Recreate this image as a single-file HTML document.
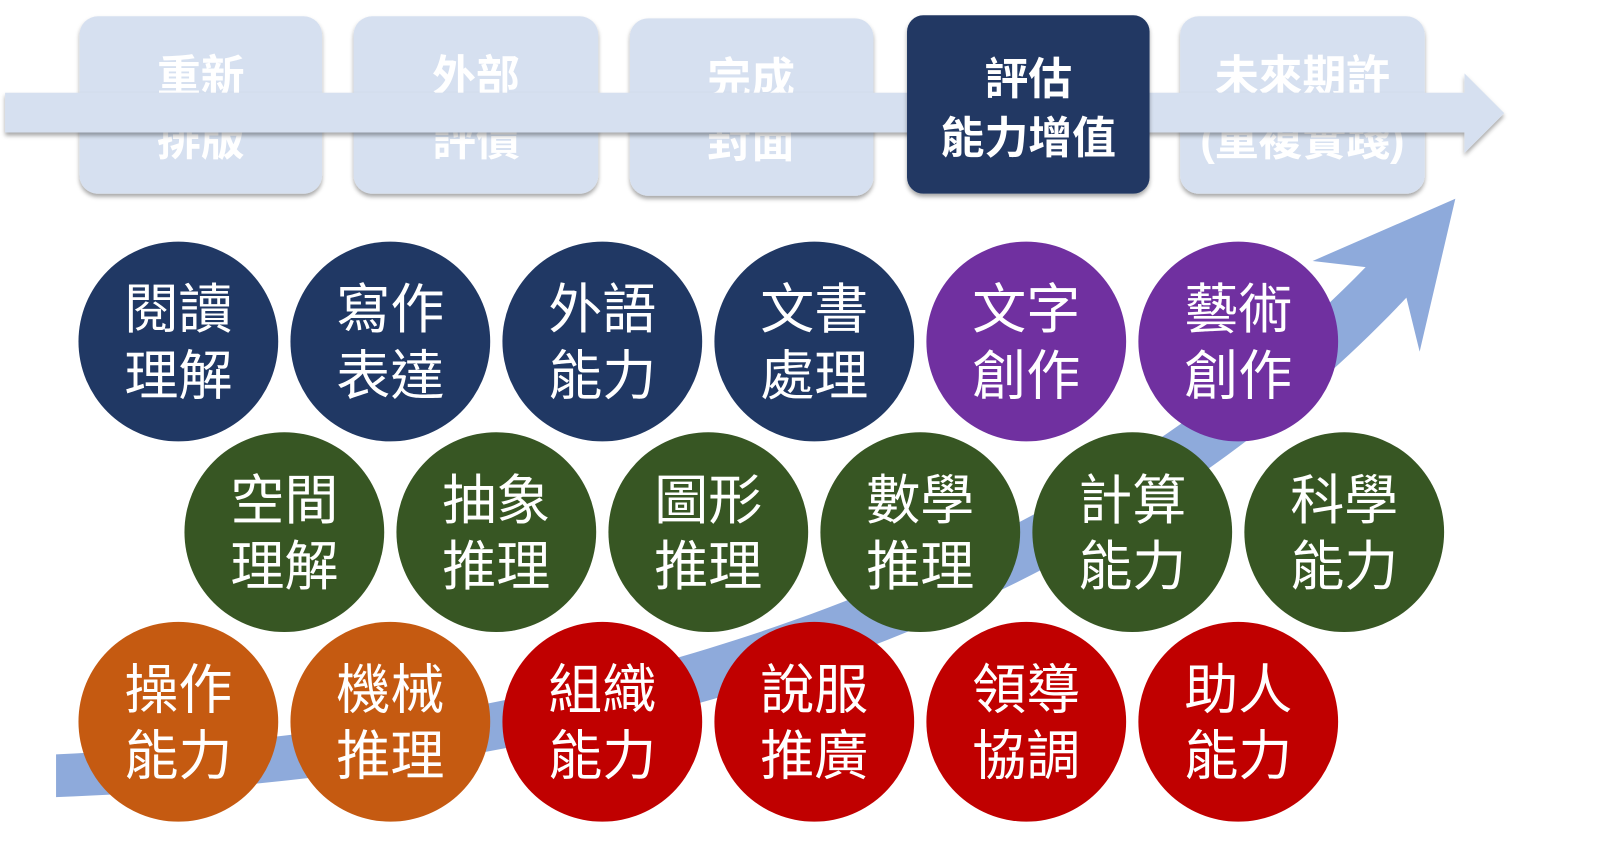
<!DOCTYPE html>
<html><head><meta charset="utf-8"><style>
html,body{margin:0;padding:0;background:#fff;}
svg{display:block}
text{font-family:"Liberation Sans","Noto Sans CJK TC",sans-serif;fill:#fff;text-anchor:middle}
.c{font-size:53px;font-weight:400}
.b{font-size:43px;font-weight:700}
</style></head><body>
<svg width="1598" height="842" viewBox="0 0 1568 826" preserveAspectRatio="none" xmlns="http://www.w3.org/2000/svg">
<defs><filter id="sh" x="-10%" y="-10%" width="120%" height="130%"><feDropShadow dx="0" dy="3" stdDeviation="2" flood-color="#000" flood-opacity="0.35"/></filter></defs>
<g filter="url(#sh)" fill="#d6e0f0">
<rect x="78" y="16" width="238" height="174" rx="18"/>
<rect x="347" y="16" width="240" height="174" rx="18"/>
<rect x="618" y="18" width="239" height="174" rx="18"/>
<rect x="1158" y="16" width="240" height="174" rx="18"/>
</g>
<text x="197" y="90" class="b">重新</text><text x="197" y="152" class="b">排版</text>
<text x="467" y="90" class="b">外部</text><text x="467" y="152" class="b">評價</text>
<text x="737" y="92" class="b">完成</text><text x="737" y="154" class="b">封面</text>
<text x="1278" y="90" class="b">未來期許</text><text x="1278" y="152" class="b">(重複實踐)</text>
<polygon filter="url(#sh)" fill="#d6e0f0" points="5,91 1437,91 1437,72 1476,111 1437,150 1437,130 5,130"/>
<rect filter="url(#sh)" x="890" y="15" width="238" height="175" rx="16" fill="#203864"/>
<text x="1009" y="92" class="b">評估</text><text x="1009" y="150" class="b">能力增值</text>
<path fill="#8eaadb" d="M55,740 C600,715 1050,560 1340,262 L1288,256 L1428,195 L1393,345 L1380,292 C1080,610 620,760 55,782 Z"/>
<circle cx="175" cy="335" r="98" fill="#203864"/><circle cx="383" cy="335" r="98" fill="#203864"/>
<circle cx="591" cy="335" r="98" fill="#203864"/><circle cx="799" cy="335" r="98" fill="#203864"/>
<circle cx="1007" cy="335" r="98" fill="#7030a0"/><circle cx="1215" cy="335" r="98" fill="#7030a0"/>
<circle cx="279" cy="522" r="98" fill="#375623"/><circle cx="487" cy="522" r="98" fill="#375623"/>
<circle cx="695" cy="522" r="98" fill="#375623"/><circle cx="903" cy="522" r="98" fill="#375623"/>
<circle cx="1111" cy="522" r="98" fill="#375623"/><circle cx="1319" cy="522" r="98" fill="#375623"/>
<circle cx="175" cy="708" r="98" fill="#c55a11"/><circle cx="383" cy="708" r="98" fill="#c55a11"/>
<circle cx="591" cy="708" r="98" fill="#c00000"/><circle cx="799" cy="708" r="98" fill="#c00000"/>
<circle cx="1007" cy="708" r="98" fill="#c00000"/><circle cx="1215" cy="708" r="98" fill="#c00000"/>
<text x="175" y="322" class="c">閱讀</text><text x="175" y="387" class="c">理解</text>
<text x="383" y="322" class="c">寫作</text><text x="383" y="387" class="c">表達</text>
<text x="591" y="322" class="c">外語</text><text x="591" y="387" class="c">能力</text>
<text x="799" y="322" class="c">文書</text><text x="799" y="387" class="c">處理</text>
<text x="1007" y="322" class="c">文字</text><text x="1007" y="387" class="c">創作</text>
<text x="1215" y="322" class="c">藝術</text><text x="1215" y="387" class="c">創作</text>
<text x="279" y="509" class="c">空間</text><text x="279" y="574" class="c">理解</text>
<text x="487" y="509" class="c">抽象</text><text x="487" y="574" class="c">推理</text>
<text x="695" y="509" class="c">圖形</text><text x="695" y="574" class="c">推理</text>
<text x="903" y="509" class="c">數學</text><text x="903" y="574" class="c">推理</text>
<text x="1111" y="509" class="c">計算</text><text x="1111" y="574" class="c">能力</text>
<text x="1319" y="509" class="c">科學</text><text x="1319" y="574" class="c">能力</text>
<text x="175" y="695" class="c">操作</text><text x="175" y="760" class="c">能力</text>
<text x="383" y="695" class="c">機械</text><text x="383" y="760" class="c">推理</text>
<text x="591" y="695" class="c">組織</text><text x="591" y="760" class="c">能力</text>
<text x="799" y="695" class="c">說服</text><text x="799" y="760" class="c">推廣</text>
<text x="1007" y="695" class="c">領導</text><text x="1007" y="760" class="c">協調</text>
<text x="1215" y="695" class="c">助人</text><text x="1215" y="760" class="c">能力</text>
</svg>
</body></html>
